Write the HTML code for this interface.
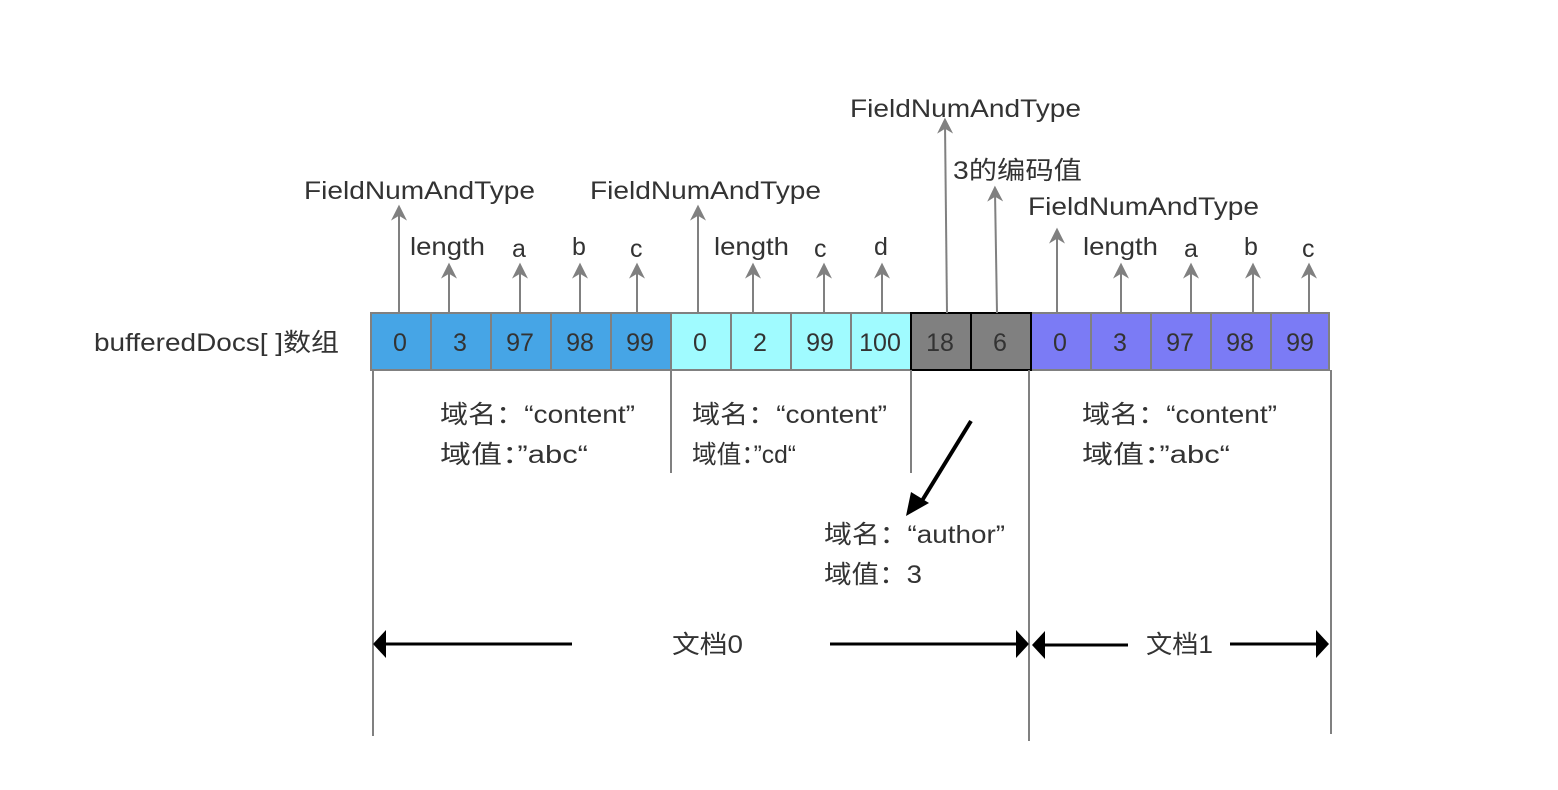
<!DOCTYPE html>
<html><head><meta charset="utf-8"><style>
html,body{margin:0;padding:0;background:#fff;}
svg{display:block}
text{font-family:"Liberation Sans","Noto Sans CJK SC",sans-serif;fill:#333;font-size:25px}
</style></head><body>
<svg width="1558" height="790" viewBox="0 0 1558 790" xmlns="http://www.w3.org/2000/svg">
<defs>
<marker id="ga" viewBox="0 0 10 10" refX="6" refY="5" markerWidth="16" markerHeight="16" markerUnits="userSpaceOnUse" orient="auto"><path d="M0,0 L10,5 L0,10 L3,5 Z" fill="#808080"/></marker>
</defs>
<text x="94" y="351" textLength="245" lengthAdjust="spacingAndGlyphs">bufferedDocs[ ]数组</text>
<g stroke="#808080" stroke-width="2">
<rect x="371" y="313" width="300" height="57" fill="#46A5E6"/>
<rect x="671" y="313" width="240" height="57" fill="#A0FBFF"/>
<rect x="1031" y="313" width="298" height="57" fill="#7B7BF5"/>
<line x1="431" y1="313" x2="431" y2="370"/><line x1="491" y1="313" x2="491" y2="370"/><line x1="551" y1="313" x2="551" y2="370"/><line x1="611" y1="313" x2="611" y2="370"/>
<line x1="731" y1="313" x2="731" y2="370"/><line x1="791" y1="313" x2="791" y2="370"/><line x1="851" y1="313" x2="851" y2="370"/>
<line x1="1091" y1="313" x2="1091" y2="370"/><line x1="1151" y1="313" x2="1151" y2="370"/><line x1="1211" y1="313" x2="1211" y2="370"/><line x1="1271" y1="313" x2="1271" y2="370"/>
</g>
<g stroke="#000" stroke-width="2"><rect x="911" y="313" width="120" height="57" fill="#808080"/><line x1="971" y1="313" x2="971" y2="370"/></g>
<g text-anchor="middle">
<text x="400" y="351">0</text><text x="460" y="351">3</text><text x="520" y="351">97</text><text x="580" y="351">98</text><text x="640" y="351">99</text>
<text x="700" y="351">0</text><text x="760" y="351">2</text><text x="820" y="351">99</text><text x="880" y="351">100</text>
<text x="940" y="351">18</text><text x="1000" y="351">6</text>
<text x="1060" y="351">0</text><text x="1120" y="351">3</text><text x="1180" y="351">97</text><text x="1240" y="351">98</text><text x="1300" y="351">99</text>
</g>
<g stroke="#808080" stroke-width="2" marker-end="url(#ga)">
<line x1="399" y1="313" x2="399" y2="211"/>
<line x1="449" y1="313" x2="449" y2="269"/>
<line x1="520" y1="313" x2="520" y2="269"/>
<line x1="580" y1="313" x2="580" y2="269"/>
<line x1="637" y1="313" x2="637" y2="269"/>
<line x1="698" y1="313" x2="698" y2="211"/>
<line x1="753" y1="313" x2="753" y2="269"/>
<line x1="824" y1="313" x2="824" y2="269"/>
<line x1="882" y1="313" x2="882" y2="269"/>
<line x1="947" y1="313" x2="945" y2="124"/>
<line x1="997" y1="313" x2="995" y2="192"/>
<line x1="1057" y1="313" x2="1057" y2="234"/>
<line x1="1121" y1="313" x2="1121" y2="269"/>
<line x1="1191" y1="313" x2="1191" y2="269"/>
<line x1="1253" y1="313" x2="1253" y2="269"/>
<line x1="1309" y1="313" x2="1309" y2="269"/>
</g>
<text x="304" y="199" textLength="231" lengthAdjust="spacingAndGlyphs">FieldNumAndType</text>
<text x="590" y="199" textLength="231" lengthAdjust="spacingAndGlyphs">FieldNumAndType</text>
<text x="850" y="117" textLength="231" lengthAdjust="spacingAndGlyphs">FieldNumAndType</text>
<text x="953" y="179" textLength="129" lengthAdjust="spacingAndGlyphs">3的编码值</text>
<text x="1028" y="215" textLength="231" lengthAdjust="spacingAndGlyphs">FieldNumAndType</text>
<text x="410" y="255" textLength="75" lengthAdjust="spacingAndGlyphs">length</text><text x="512" y="257">a</text><text x="572" y="255">b</text><text x="630" y="257">c</text>
<text x="714" y="255" textLength="75" lengthAdjust="spacingAndGlyphs">length</text><text x="814" y="257">c</text><text x="874" y="255">d</text>
<text x="1083" y="255" textLength="75" lengthAdjust="spacingAndGlyphs">length</text><text x="1184" y="257">a</text><text x="1244" y="255">b</text><text x="1302" y="257">c</text>
<g stroke="#808080" stroke-width="2">
<line x1="373" y1="370" x2="373" y2="736"/>
<line x1="671" y1="370" x2="671" y2="473"/>
<line x1="911" y1="370" x2="911" y2="473"/>
<line x1="1029" y1="370" x2="1029" y2="741"/>
<line x1="1331" y1="370" x2="1331" y2="734"/>
</g>
<text x="440" y="423" textLength="195" lengthAdjust="spacingAndGlyphs">域名：“content”</text><text x="440" y="463" textLength="148" lengthAdjust="spacingAndGlyphs">域值：”abc“</text>
<text x="692" y="423" textLength="195" lengthAdjust="spacingAndGlyphs">域名：“content”</text><text x="692" y="463" textLength="104" lengthAdjust="spacingAndGlyphs">域值：”cd“</text>
<text x="1082" y="423" textLength="195" lengthAdjust="spacingAndGlyphs">域名：“content”</text><text x="1082" y="463" textLength="148" lengthAdjust="spacingAndGlyphs">域值：”abc“</text>
<text x="824" y="543" textLength="181" lengthAdjust="spacingAndGlyphs">域名：“author”</text><text x="824" y="583" textLength="98" lengthAdjust="spacingAndGlyphs">域值：3</text>
<line x1="971" y1="421" x2="920" y2="504" stroke="#000" stroke-width="4"/>
<path d="M906,516 L911,492 L929,503 Z" fill="#000"/>
<g stroke="#000" stroke-width="3">
<line x1="380" y1="644" x2="572" y2="644"/>
<line x1="830" y1="644" x2="1020" y2="644"/>
<line x1="1040" y1="645" x2="1128" y2="645"/>
<line x1="1230" y1="644" x2="1320" y2="644"/>
</g>
<g fill="#000">
<path d="M373,644 L386,630 L386,658 Z"/>
<path d="M1029,644 L1016,630 L1016,658 Z"/>
<path d="M1032,645 L1045,631 L1045,659 Z"/>
<path d="M1329,644 L1316,630 L1316,658 Z"/>
</g>
<text x="672" y="653" textLength="71" lengthAdjust="spacingAndGlyphs">文档0</text>
<text x="1146" y="653" textLength="67" lengthAdjust="spacingAndGlyphs">文档1</text>
</svg>
</body></html>
